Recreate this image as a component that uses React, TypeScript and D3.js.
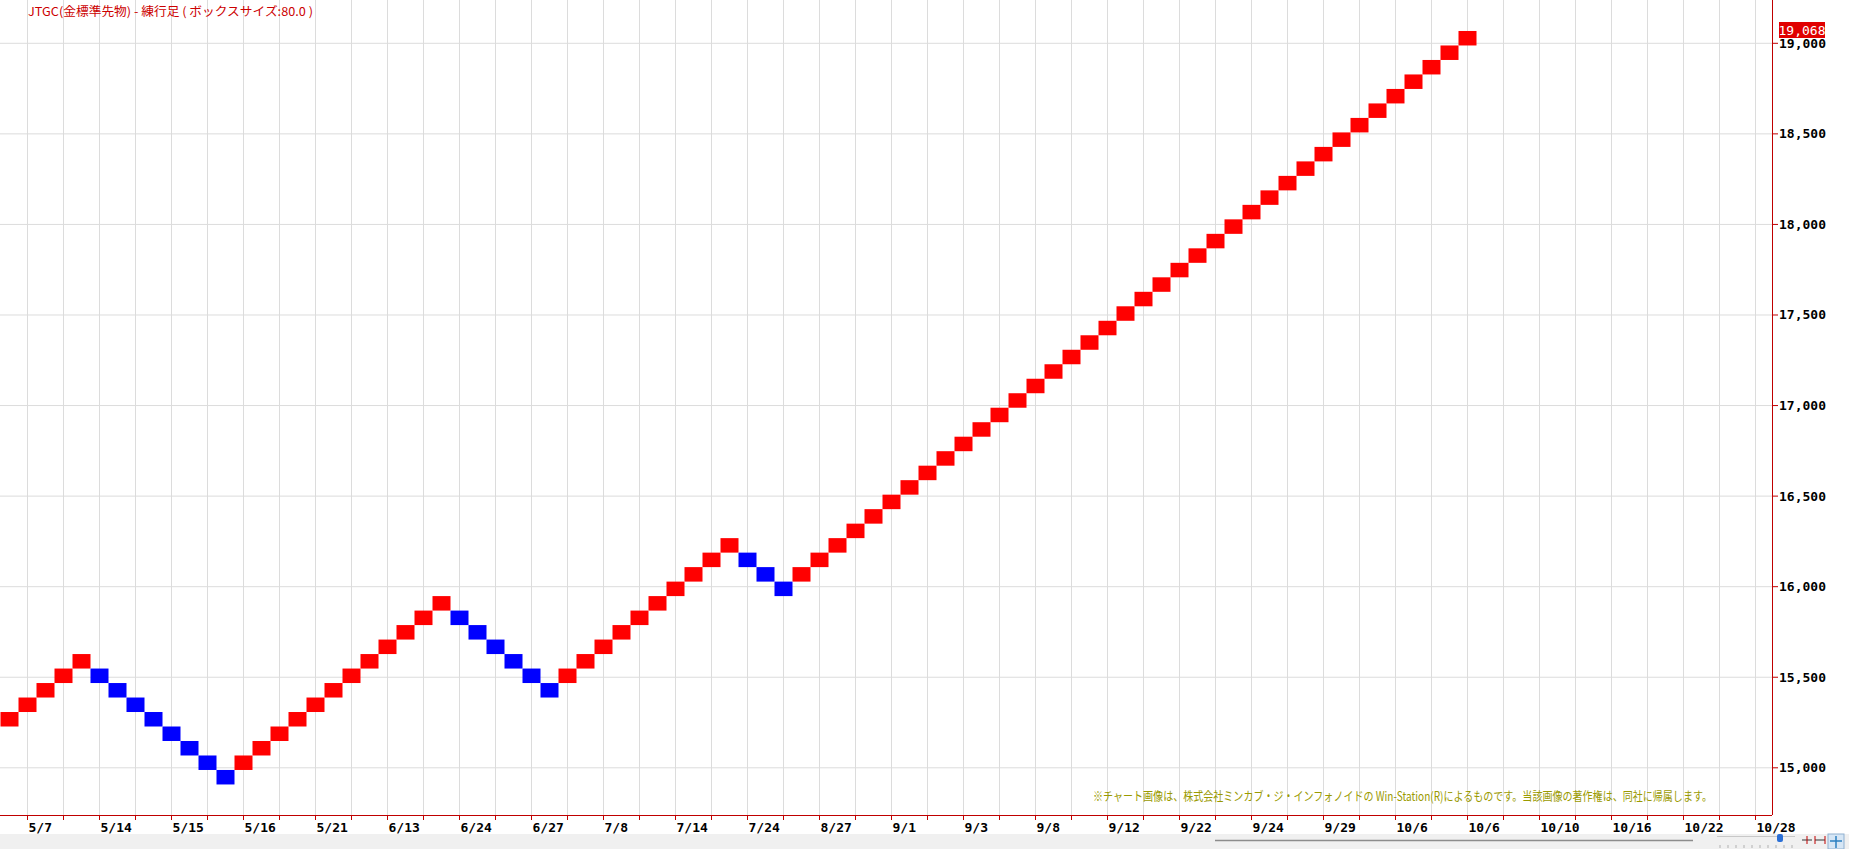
import React from "react";
import * as d3 from "d3";

// ---- Data ----
const title = "JTGC(金標準先物) - 練行足 ( ボックスサイズ:80.0 )";
const footer = "※チャート画像は、株式会社ミンカブ・ジ・インフォノイドの Win-Station(R)によるものです。当該画像の著作権は、同社に帰属します。";
const boxSize = 80;
const lastValue = 19068;

// bottom value of each brick, in order
const brickLows = [
  15228, 15308, 15388, 15468, 15548,
  15468, 15388, 15308, 15228, 15148, 15068, 14988, 14908,
  14988, 15068, 15148, 15228, 15308, 15388, 15468, 15548, 15628, 15708, 15788, 15868,
  15788, 15708, 15628, 15548, 15468, 15388,
  15468, 15548, 15628, 15708, 15788, 15868, 15948, 16028, 16108, 16188,
  16108, 16028, 15948,
  16028, 16108, 16188, 16268, 16348, 16428, 16508, 16588, 16668, 16748, 16828, 16908,
  16988, 17068, 17148, 17228, 17308, 17388, 17468, 17548, 17628, 17708, 17788, 17868,
  17948, 18028, 18108, 18188, 18268, 18348, 18428, 18508, 18588, 18668, 18748, 18828,
  18908, 18988,
];
// direction of each brick: "u" = up (red), "d" = down (blue)
const brickDirs =
  "uuuuu" + "dddddddd" + "uuuuuuuuuuuu" + "dddddd" + "uuuuuuuuuu" + "ddd" +
  "uuuuuuuuuuuuuuuuuuuuuuuuuuuuuuuuuuuuuu";

const xLabels = [
  "5/7", "5/14", "5/15", "5/16", "5/21", "6/13", "6/24", "6/27", "7/8", "7/14",
  "7/24", "8/27", "9/1", "9/3", "9/8", "9/12", "9/22", "9/24", "9/29", "10/6",
  "10/6", "10/10", "10/16", "10/22", "10/28",
];
const yTicks = [15000, 15500, 16000, 16500, 17000, 17500, 18000, 18500, 19000];

// ---- Layout ----
const W = 1849;
const H = 849;
const axisX = 1772;
const axisY = 815;

export default function App() {
  const x = d3.scaleLinear().domain([0, 100]).range([0.5, 1800.5]); // brick index -> left edge
  const y = d3.scaleLinear().domain([15000, 19000]).range([767.8, 43.3]);
  const bw = x(1) - x(0);

  const gridIdx = d3.range(1, 99, 2); // centers of odd bricks
  const gridXs = gridIdx.map((i) => x(i) + bw / 2).filter((v) => v < axisX);
  const labelIdx = xLabels.map((_, k) => 1 + 4 * k);

  const mono = "'DejaVu Sans Mono', monospace";
  const jp = "'Noto Sans CJK JP', sans-serif";

  return (
    <svg
      width={W}
      height={H}
      style={{ position: "absolute", left: 0, top: 0, background: "#fff" }}
    >
      <rect x={0} y={0} width={W} height={H} fill="#fff" />
      {/* vertical grid */}
      {gridXs.map((gx, i) => (
        <line key={"vg" + i} x1={gx} x2={gx} y1={0} y2={axisY} stroke="#dcdcdc" strokeWidth={1} />
      ))}
      {/* horizontal grid */}
      {yTicks.map((t) => (
        <line key={"hg" + t} x1={0} x2={axisX} y1={y(t)} y2={y(t)} stroke="#dcdcdc" strokeWidth={1} />
      ))}

      {/* bricks */}
      {brickLows.map((lo, i) => (
        <rect
          key={"b" + i}
          x={x(i)}
          y={y(lo + boxSize)}
          width={bw}
          height={y(lo) - y(lo + boxSize)}
          fill={brickDirs[i] === "u" ? "#ff0000" : "#0000ff"}
        />
      ))}

      {/* title */}
      <text x={28} y={15.5} fontFamily={jp} fontSize={12} fill="#cc0000" textLength={285} lengthAdjust="spacingAndGlyphs">
        {title}
      </text>

      {/* footer */}
      <text x={1093} y={801} fontFamily={jp} fontSize={12.5} fill="#9a9a00" textLength={619} lengthAdjust="spacingAndGlyphs">
        {footer}
      </text>

      {/* axes */}
      <line x1={0} x2={axisX} y1={axisY + 0.5} y2={axisY + 0.5} stroke="#c00000" strokeWidth={1} />
      <line x1={axisX + 0.5} x2={axisX + 0.5} y1={0} y2={axisY} stroke="#c00000" strokeWidth={1} />

      {/* x ticks */}
      {gridIdx.map((i) => {
        const gx = x(i) + bw / 2;
        return <line key={"xt" + i} x1={gx} x2={gx} y1={axisY} y2={axisY + 5} stroke="#c00000" strokeWidth={1} />;
      })}
      {xLabels.map((lab, k) => (
        <text
          key={"xl" + k}
          x={x(labelIdx[k]) + bw / 2 + 1}
          y={832}
          fontFamily={mono}
          fontWeight="bold"
          fontSize={13}
          fill="#000"
        >
          {lab}
        </text>
      ))}

      {/* y ticks */}
      {yTicks.map((t) => (
        <g key={"yt" + t}>
          <line x1={axisX} x2={axisX + 6} y1={y(t)} y2={y(t)} stroke="#c00000" strokeWidth={1} />
          <text x={1779} y={y(t) + 4.5} fontFamily={mono} fontWeight="bold" fontSize={13} fill="#000">
            {d3.format(",")(t)}
          </text>
        </g>
      ))}

      {/* last value label */}
      <rect x={1779} y={22} width={46} height={16} fill="#e00000" />
      <text x={1802} y={34.5} textAnchor="middle" fontFamily={mono} fontSize={13} fill="#fff">
        {d3.format(",")(lastValue)}
      </text>

      {/* bottom bar */}
      <rect x={0} y={834} width={W} height={H - 834} fill="#f0f0f0" />
      <line x1={1215} x2={1693} y1={840.5} y2={840.5} stroke="#8c8c8c" strokeWidth={1.5} />
      <line x1={1717} x2={1795} y1={836.5} y2={836.5} stroke="#c8c8c8" strokeWidth={1} />
      {d3.range(1720, 1796, 8).map((tx) => (
        <line key={"st" + tx} x1={tx} x2={tx} y1={845} y2={848} stroke="#b0b0b0" strokeWidth={1} />
      ))}
      <rect x={1777} y={834} width={6} height={8} rx={2} fill="#2a6fd6" />
      <g stroke="#333" strokeWidth={1}>
        <line x1={1802} x2={1812} y1={840} y2={840} />
        <line x1={1807} x2={1807} y1={836} y2={844} stroke="#c00000" />
        <line x1={1815} x2={1825} y1={840} y2={840} />
        <line x1={1815} x2={1815} y1={836} y2={844} stroke="#c00000" />
        <line x1={1825} x2={1825} y1={836} y2={844} stroke="#c00000" />
      </g>
      <rect x={1828} y={834} width={16} height={15} fill="#d6e6f5" stroke="#8fb0d0" />
      <g stroke="#2a7fc0" strokeWidth={1.5}>
        <line x1={1836} x2={1836} y1={836} y2={848} />
        <line x1={1830} x2={1842} y1={841} y2={841} />
      </g>
    </svg>
  );
}
